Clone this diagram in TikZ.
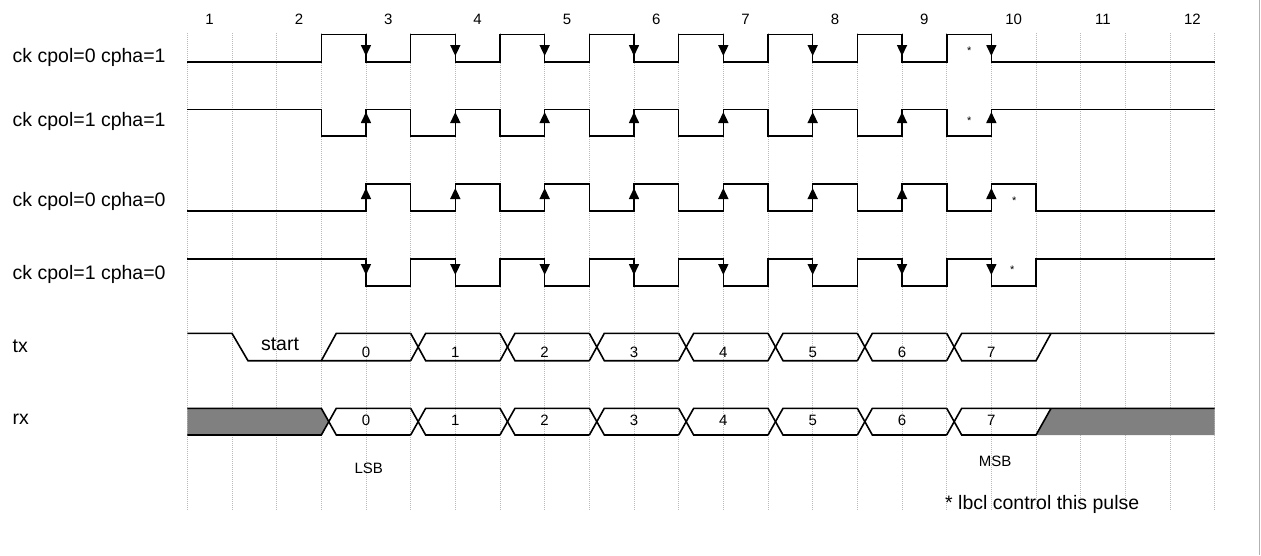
\documentclass[tikz,border=0pt]{standalone}
\usepackage{fontspec}
\setmainfont{Liberation Sans}
\usetikzlibrary{arrows.meta}

\begin{document}
\begin{tikzpicture}[x=1pt,y=-1pt,
  declare function={gx(\i)=187.3+44.67*\i;},
  wave/.style={line width=1.6pt},
  gridline/.style={gray!55,line width=0.8pt,dash pattern=on 1pt off 1pt},
  edgearrow/.style={-{Triangle[length=11pt,width=10pt]},line width=1.6pt},
  lbl/.style={font=\fontsize{19.5}{23}\selectfont,anchor=base west,inner sep=0pt},
  num/.style={font=\fontsize{15}{18}\selectfont,anchor=base,inner sep=0pt},
  star/.style={font=\fontsize{11}{13}\selectfont,anchor=base,inner sep=0pt}]
\useasboundingbox (0,0) rectangle (1261,555);
\draw[gray!60,line width=1.5pt] (1259.5,0) -- (1259.5,555);

\foreach \i in {0,...,23}
  \draw[gridline] ({gx(\i)},33) -- ({gx(\i)},510);
\foreach \n in {1,...,12}
  \node[num] (n\n) at ({gx(2*\n-2)+22.3},24) {\n};

\node[lbl] (ck01) at (12.5,62.5) {ck cpol=0 cpha=1};
\node[lbl] (ck11) at (12.5,126) {ck cpol=1 cpha=1};
\node[lbl] (ck00) at (12.5,206) {ck cpol=0 cpha=0};
\node[lbl] (ck10) at (12.5,279) {ck cpol=1 cpha=0};
\node[lbl] (txl) at (12.5,352) {tx};
\node[lbl] (rxl) at (12.5,424) {rx};

\foreach \a/\b/\f in {61.7/34.3/3,109.3/136/3,211/184/4,258.7/285.7/4}
  \draw[wave] ({gx(0)},\a) \foreach \k in {0,...,7}{
    -- ({gx(\f+2*\k)},\a) -- ({gx(\f+2*\k)},\b)
    -- ({gx(\f+2*\k+1)},\b) -- ({gx(\f+2*\k+1)},\a)} -- ({gx(23)},\a);
\foreach \s/\t in {43/56,124/112,199/188,264/275}
  \foreach \k in {4,6,...,18}
    \draw[edgearrow] ({gx(\k)},\s) -- ({gx(\k)},\t);

\node[star] (st01) at (969.3,54.5) {*};
\node[star] (st11) at (969.3,124.5) {*};
\node[star] (st00) at (1014.3,204) {*};
\node[star] (st10) at (1012.3,273.5) {*};

\fill[gray] ({gx(0)},408.3) -- ({gx(3)},408.3) -- ({gx(3)+7.5},421.6)
  -- ({gx(3)},435) -- ({gx(0)},435) -- cycle;
\fill[gray] ({gx(19)},435) -- ({gx(19)+15},408.3) -- ({gx(23)},408.3)
  -- ({gx(23)},435) -- cycle;

\draw[wave] ({gx(0)},333.3) -- ({gx(1)},333.3) -- ({gx(1)+16},360.7) -- ({gx(5)},360.7);
\draw[wave] ({gx(3)},360.7) -- ({gx(3)+15},333.3) -- ({gx(5)},333.3);
\draw[wave] ({gx(0)},408.3) -- ({gx(3)},408.3) -- ({gx(3)+15},435) -- ({gx(5)},435);
\draw[wave] ({gx(0)},435) -- ({gx(3)},435) -- ({gx(3)+15},408.3) -- ({gx(5)},408.3);

\foreach \h/\l in {333.3/360.7,408.3/435} {
  \foreach \j in {1,...,6} {
    \draw[wave] ({gx(3+2*\j)},\h) -- ({gx(3+2*\j)+15},\l) -- ({gx(5+2*\j)},\l);
    \draw[wave] ({gx(3+2*\j)},\l) -- ({gx(3+2*\j)+15},\h) -- ({gx(5+2*\j)},\h);
  }
  \draw[wave] ({gx(17)},\h) -- ({gx(17)+15},\l) -- ({gx(19)},\l) -- ({gx(19)+15},\h);
  \draw[wave] ({gx(17)},\l) -- ({gx(17)+15},\h) -- ({gx(23)},\h);
}

\foreach \j in {0,...,7} {
  \node[num] (tb\j) at ({gx(4+2*\j)},357) {\j};
  \node[num] (rb\j) at ({gx(4+2*\j)},425) {\j};
}
\node[lbl,anchor=base] (start) at (280,350) {start};
\node[num] (lsb) at (368.7,473) {LSB};
\node[num] (msb) at (995,466.7) {MSB};
\node[lbl] (note) at (945,509) {* lbcl control this pulse};
\end{tikzpicture}
\end{document}
